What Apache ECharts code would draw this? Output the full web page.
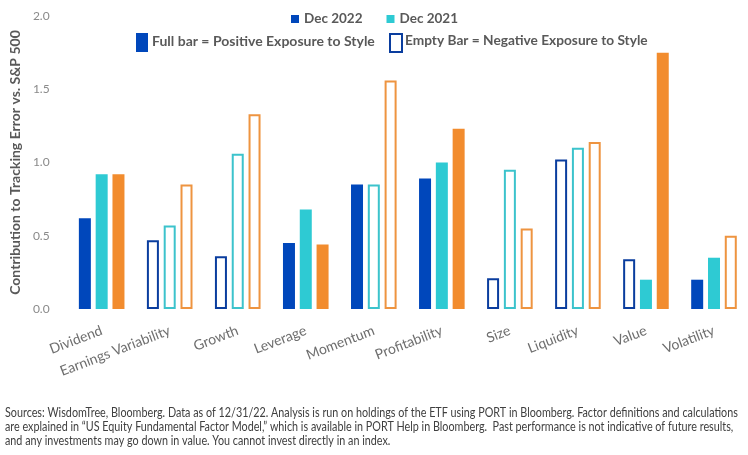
<!DOCTYPE html>
<html>
<head>
<meta charset="utf-8">
<script src="https://cdn.jsdelivr.net/npm/echarts@6/dist/echarts.min.js"></script>
<style>
  html, body { margin: 0; padding: 0; background: #fff; }
  #chart { width: 748px; height: 455px; }
</style>
</head>
<body>
<div id="chart"></div>
<script>
// factor categories
const factors = ['Dividend', 'Earnings Variability', 'Growth', 'Leverage', 'Momentum',
  'Profitability', 'Size', 'Liquidity', 'Value', 'Volatility'];

// contribution to tracking error
const dec2022 = [0.62, 0.47, 0.36, 0.45, 0.85, 0.89, 0.21, 1.02, 0.34, 0.20];
const dec2021 = [0.92, 0.57, 1.06, 0.68, 0.85, 1.00, 0.95, 1.10, 0.20, 0.35];
const dec2020 = [0.92, 0.85, 1.33, 0.44, 1.56, 1.23, 0.55, 1.14, 1.75, 0.50];

// 1 = full bar (positive exposure), 0 = empty bar (negative exposure)
const dec2022Full = [1, 0, 0, 1, 1, 1, 0, 0, 0, 1];
const dec2021Full = [1, 0, 0, 1, 0, 1, 0, 0, 1, 1];
const dec2020Full = [1, 0, 0, 1, 0, 1, 0, 0, 1, 0];

const yTicks = { min: 0, max: 2, interval: 0.5 };

const FONT = 'Lato';
const NOTE = 'Sources: WisdomTree, Bloomberg. Data as of 12/31/22. Analysis is run on holdings of the ETF using PORT in Bloomberg. Factor definitions and calculations\n' +
  'are explained in \u201cUS Equity Fundamental Factor Model,\u201d which is available in PORT Help in Bloomberg.  Past performance is not indicative of future results,\n' +
  'and any investments may go down in value. You cannot invest directly in an index.';

function makeItems(values, full, color, border) {
  return values.map(function (v, i) {
    if (full[i]) return { value: v, itemStyle: { color: color } };
    return { value: v, itemStyle: { color: '#ffffff', borderColor: border, borderWidth: 2 } };
  });
}

function barSeries(name, values, full, color, border) {
  return {
    name: name,
    type: 'bar',
    barWidth: 12,
    barGap: '40%',
    itemStyle: { color: color },
    data: makeItems(values, full, color, border)
  };
}

var chart = echarts.init(document.getElementById('chart'));

chart.setOption({
  animation: false,
  textStyle: { fontFamily: FONT },
  grid: { left: 62, top: 16, width: 690, bottom: 146 },
  legend: {
    data: ['Dec 2022', 'Dec 2021'],
    left: 286, top: 7,
    icon: 'rect', itemWidth: 8, itemHeight: 8, itemGap: 24, itemSpacing: 6,
    textStyle: { fontFamily: FONT, fontWeight: 'bold', fontSize: 13.5, color: '#595959' }
  },
  xAxis: {
    type: 'category',
    data: factors,
    axisLine: { show: false },
    axisTick: { show: false },
    axisLabel: {
      rotate: 21, margin: 21, interval: 0,
      fontFamily: FONT, fontSize: 14, color: '#6e6e6e'
    }
  },
  yAxis: {
    type: 'value',
    min: yTicks.min, max: yTicks.max, interval: yTicks.interval,
    splitLine: { show: false },
    axisLine: { show: false },
    axisLabel: {
      margin: 18, fontFamily: FONT, fontSize: 12, color: '#8a8a8a',
      formatter: function (v) { return v.toFixed(1); }
    },
    name: 'Contribution to Tracking Error vs. S&P 500',
    nameLocation: 'middle', nameGap: 40,
    nameTextStyle: { fontFamily: FONT, fontWeight: 'bold', fontSize: 14, color: '#595959' }
  },
  graphic: [
    { type: 'rect', left: 136, top: 33, shape: { width: 12, height: 19 }, style: { fill: '#0047bb' } },
    { type: 'text', left: 152, top: 34, style: { text: 'Full bar = Positive Exposure to Style', font: 'bold 14px ' + FONT, fill: '#595959' } },
    { type: 'rect', left: 389, top: 33, shape: { width: 12, height: 18 }, style: { fill: '#ffffff', stroke: '#0a3d9e', lineWidth: 2 } },
    { type: 'text', left: 405, top: 34, style: { text: 'Empty Bar = Negative Exposure to Style', font: 'bold 13.7px ' + FONT, fill: '#595959' } },
    { type: 'text', x: 5, y: 406, scaleX: 0.862, originX: 0, style: { text: NOTE, font: '12.5px ' + FONT, fill: '#404040', lineHeight: 14 } }
  ],
  series: [
    barSeries('Dec 2022', dec2022, dec2022Full, '#0047bb', '#0a3d9e'),
    barSeries('Dec 2021', dec2021, dec2021Full, '#2ecad3', '#3cc3cc'),
    barSeries('Dec 2020', dec2020, dec2020Full, '#f28c2e', '#ee9440')
  ]
});
</script>
</body>
</html>
